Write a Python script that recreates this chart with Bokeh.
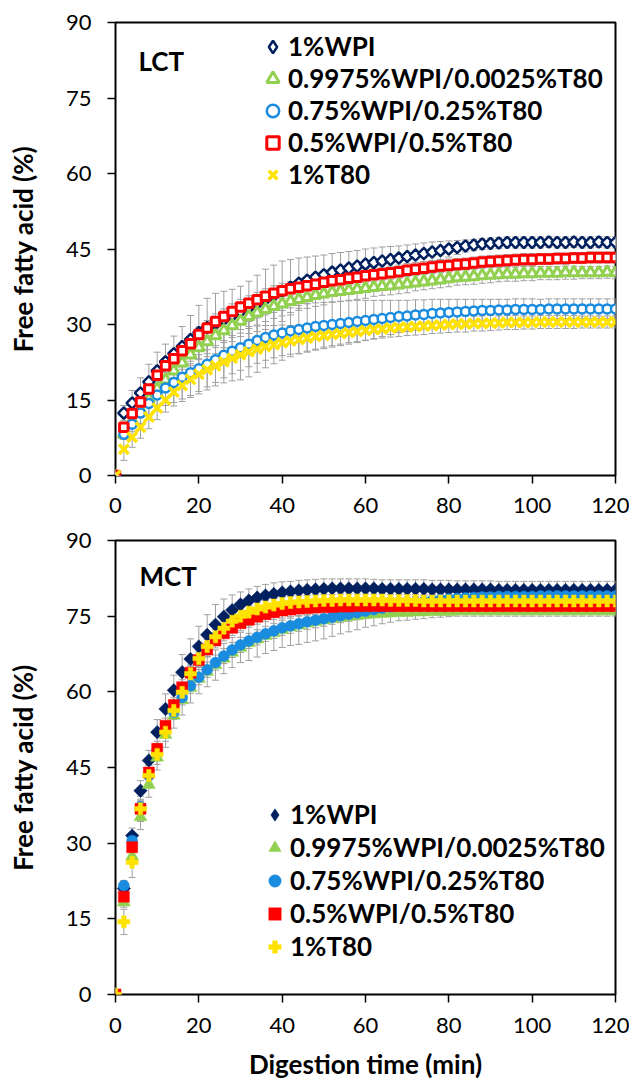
import math
from bokeh.plotting import figure
from bokeh.models import (ColumnDataSource, Whisker, TeeHead, Legend, LegendItem,
                          Label, FixedTicker, Range1d)
from bokeh.layouts import column
from bokeh.embed import file_html
from bokeh.resources import INLINE

# ---------------- data ----------------
time_min = [0, 2, 4, 6, 8, 10, 12, 14, 16, 18, 20, 22, 24, 26, 28, 30, 32, 34, 36, 38, 40,
            42, 44, 46, 48, 50, 52, 54, 56, 58, 60, 62, 64, 66, 68, 70, 72, 74, 76, 78, 80,
            82, 84, 86, 88, 90, 92, 94, 96, 98, 100, 102, 104, 106, 108, 110, 112, 114, 116, 118, 120]

series_labels = ["1%WPI", "0.9975%WPI/0.0025%T80", "0.75%WPI/0.25%T80", "0.5%WPI/0.5%T80", "1%T80"]
x_ticks = [0, 20, 40, 60, 80, 100, 120]
y_ticks = [0, 15, 30, 45, 60, 75, 90]

# LCT
lct_wpi = [0, 12.4, 14.4, 16.4, 18.6, 20.8, 22.6, 24.2, 25.6, 27.0, 28.4,
           29.4, 30.2, 31.0, 31.8, 32.6, 33.4, 34.2, 35.0, 35.8, 36.6,
           37.4, 38.2, 38.8, 39.4, 39.9, 40.4, 40.8, 41.2, 41.6, 42.0,
           42.3, 42.6, 42.9, 43.2, 43.5, 43.8, 44.1, 44.4, 44.7, 45.0,
           45.3, 45.6, 45.8, 46.0, 46.1, 46.2, 46.3, 46.3, 46.3, 46.3,
           46.3, 46.4, 46.3, 46.3, 46.4, 46.3, 46.3, 46.4, 46.3, 46.3]
lct_wpi_sd = [0, 1.5, 2.5, 3.0, 3.5, 3.7, 3.5, 3.5, 4.0, 4.8, 5.4,
              5.8, 6.0, 5.6, 5.2, 5.0, 5.2, 5.6, 6.0, 6.0, 6.0,
              5.5, 5.0, 4.6, 4.2, 3.9, 3.7, 3.5, 3.3, 3.1, 3.0,
              2.9, 2.8, 2.6, 2.4, 2.3, 2.2, 2.1, 2.0, 1.8, 1.6,
              1.4, 1.2, 1.1, 1.1, 1.1, 1.1, 1.1, 1.1, 1.1, 1.1,
              1.1, 1.1, 1.1, 1.1, 1.1, 1.1, 1.1, 1.1, 1.1, 1.1]
lct_9975 = [0, 8.2, 10.8, 13.0, 15.2, 17.2, 19.0, 20.8, 22.4, 24.0, 25.4,
            26.6, 27.8, 28.8, 29.8, 30.7, 31.6, 32.3, 33.0, 33.6, 34.1,
            34.6, 35.0, 35.4, 35.8, 36.1, 36.4, 36.6, 36.8, 37.0, 37.2,
            37.4, 37.6, 37.7, 37.9, 38.1, 38.3, 38.5, 38.7, 38.9, 39.1,
            39.3, 39.4, 39.5, 39.7, 39.8, 39.9, 40.0, 40.0, 40.1, 40.1,
            40.2, 40.2, 40.2, 40.3, 40.3, 40.3, 40.3, 40.3, 40.4, 40.3]
lct_9975_sd = [0, 1.0, 1.2, 1.4, 1.5, 1.6, 1.8, 2.0, 2.0, 2.2, 2.2,
               2.4, 2.4, 2.4, 2.4, 2.4, 2.4, 2.4, 2.4, 2.4, 2.4,
               2.2, 2.2, 2.2, 2.2, 2.2, 2.0, 2.0, 2.0, 2.0, 2.0,
               1.8, 1.8, 1.8, 1.8, 1.8, 1.6, 1.6, 1.6, 1.6, 1.6,
               1.5, 1.5, 1.5, 1.5, 1.5, 1.4, 1.4, 1.4, 1.4, 1.4,
               1.3, 1.3, 1.3, 1.3, 1.3, 1.2, 1.2, 1.2, 1.2, 1.2]
lct_75 = [0, 8.2, 10.2, 12.4, 14.3, 16.0, 17.4, 18.5, 19.5, 20.4, 21.2,
          22.1, 23.0, 23.9, 24.7, 25.4, 26.1, 26.8, 27.4, 27.9, 28.3,
          28.7, 29.0, 29.3, 29.6, 29.8, 30.0, 30.2, 30.4, 30.6, 30.8,
          31.0, 31.2, 31.4, 31.6, 31.7, 31.9, 32.0, 32.2, 32.3, 32.4,
          32.5, 32.6, 32.7, 32.8, 32.8, 32.9, 32.9, 33.0, 33.0, 33.0,
          33.0, 33.1, 33.1, 33.1, 33.1, 33.1, 33.1, 33.1, 33.1, 33.1]
lct_75_sd = [0, 1.0, 1.5, 2.0, 2.5, 3.0, 3.5, 4.0, 4.3, 4.5, 4.5,
             4.5, 4.5, 4.5, 4.5, 4.5, 4.5, 4.5, 4.5, 4.5, 4.5,
             4.6, 4.8, 4.8, 4.7, 4.6, 4.5, 4.4, 4.3, 4.2, 4.0,
             3.8, 3.6, 3.4, 3.2, 3.1, 3.0, 2.9, 2.8, 2.7, 2.6,
             2.5, 2.4, 2.3, 2.2, 2.2, 2.1, 2.1, 2.1, 2.1, 2.1,
             2.0, 2.0, 2.0, 2.0, 2.0, 2.0, 2.0, 2.0, 2.0, 2.0]
lct_5 = [0, 9.6, 12.3, 14.6, 17.2, 19.9, 21.8, 23.2, 24.8, 26.2, 28.0,
         29.3, 30.6, 31.6, 32.6, 33.5, 34.2, 34.9, 35.6, 36.2, 36.7,
         37.1, 37.4, 37.7, 38.0, 38.4, 38.7, 38.9, 39.2, 39.4, 39.7,
         39.9, 40.1, 40.3, 40.5, 40.8, 41.0, 41.2, 41.4, 41.6, 41.7,
         41.9, 42.0, 42.2, 42.4, 42.5, 42.6, 42.7, 42.8, 42.9, 42.9,
         43.0, 43.0, 43.1, 43.1, 43.2, 43.2, 43.3, 43.3, 43.3, 43.3]
lct_5_sd = [0, 0.8, 1.0, 1.0, 1.2, 1.2, 1.3, 1.3, 1.4, 1.4, 1.5,
            1.5, 1.5, 1.5, 1.5, 1.5, 1.5, 1.5, 1.5, 1.5, 1.5,
            1.4, 1.4, 1.4, 1.4, 1.4, 1.4, 1.4, 1.4, 1.4, 1.4,
            1.3, 1.3, 1.3, 1.3, 1.3, 1.3, 1.3, 1.3, 1.3, 1.3,
            1.2, 1.2, 1.2, 1.2, 1.2, 1.2, 1.2, 1.2, 1.2, 1.2,
            1.1, 1.1, 1.1, 1.1, 1.1, 1.1, 1.1, 1.1, 1.1, 1.1]
lct_t80 = [0, 5.2, 7.6, 9.6, 11.6, 13.4, 15.0, 16.6, 17.9, 19.1, 20.1,
           21.0, 21.8, 22.6, 23.3, 24.0, 24.6, 25.1, 25.6, 26.0, 26.4,
           26.7, 27.0, 27.3, 27.6, 27.8, 28.0, 28.2, 28.4, 28.6, 28.8,
           29.0, 29.1, 29.3, 29.4, 29.5, 29.6, 29.7, 29.8, 29.9, 30.0,
           30.1, 30.1, 30.2, 30.2, 30.3, 30.3, 30.4, 30.4, 30.4, 30.4,
           30.5, 30.5, 30.5, 30.5, 30.5, 30.5, 30.5, 30.5, 30.5, 30.5]
lct_t80_sd = [0, 2.2, 2.0, 2.2, 2.3, 2.3, 2.4, 2.8, 3.2, 3.6, 3.9,
              4.0, 4.0, 4.2, 4.5, 5.0, 5.0, 4.6, 4.2, 3.8, 3.5,
              3.1, 2.8, 2.6, 2.5, 2.3, 2.2, 2.1, 2.0, 2.0, 1.9,
              1.9, 1.8, 1.8, 1.8, 1.7, 1.7, 1.7, 1.6, 1.6, 1.6,
              1.6, 1.6, 1.5, 1.5, 1.5, 1.4, 1.4, 1.4, 1.3, 1.3,
              1.3, 1.3, 1.3, 1.3, 1.3, 1.2, 1.2, 1.2, 1.2, 1.2]

# MCT
mct_wpi = [0, 21.0, 31.5, 40.4, 46.4, 52.0, 56.6, 60.3, 63.9, 66.5, 69.0,
           71.3, 73.3, 74.9, 76.2, 77.3, 78.1, 78.7, 79.1, 79.4, 79.7,
           79.9, 80.1, 80.2, 80.3, 80.4, 80.5, 80.5, 80.5, 80.5, 80.5,
           80.5, 80.4, 80.4, 80.4, 80.4, 80.4, 80.4, 80.3, 80.3, 80.3,
           80.3, 80.3, 80.3, 80.3, 80.3, 80.2, 80.2, 80.2, 80.2, 80.2,
           80.2, 80.2, 80.2, 80.2, 80.2, 80.2, 80.2, 80.2, 80.2, 80.2]
mct_wpi_sd = [0, 1.0, 1.5, 2.0, 2.0, 2.5, 3.0, 3.0, 3.5, 4.0, 4.0,
              4.0, 4.0, 3.5, 3.0, 2.5, 2.3, 2.2, 2.2, 2.2, 2.1,
              2.0, 2.0, 2.0, 2.0, 2.0, 1.9, 1.9, 1.9, 1.9, 1.9,
              1.8, 1.8, 1.8, 1.8, 1.8, 1.8, 1.8, 1.8, 1.8, 1.8,
              1.7, 1.7, 1.7, 1.7, 1.7, 1.7, 1.7, 1.7, 1.7, 1.7,
              1.7, 1.7, 1.7, 1.7, 1.7, 1.7, 1.7, 1.7, 1.7, 1.7]
mct_9975 = [0, 18.3, 27.4, 35.2, 41.6, 47.0, 51.5, 55.3, 58.4, 60.8, 62.6,
            64.0, 65.3, 66.6, 67.8, 68.8, 69.7, 70.4, 71.1, 71.7, 72.3,
            72.8, 73.2, 73.6, 73.9, 74.2, 74.5, 74.7, 74.9, 75.1, 75.3,
            75.4, 75.5, 75.6, 75.7, 75.7, 75.8, 75.8, 75.9, 75.9, 75.9,
            76.0, 76.0, 76.0, 76.0, 76.0, 76.0, 76.0, 76.0, 76.0, 76.0,
            76.0, 76.0, 76.0, 76.0, 76.0, 76.0, 76.0, 76.0, 76.0, 76.0]
mct_9975_sd = [0, 1.0, 1.5, 2.5, 2.5, 2.5, 2.5, 2.5, 3.0, 3.0, 3.0,
               3.0, 3.0, 3.0, 3.0, 3.0, 3.5, 3.5, 3.5, 3.5, 3.5,
               3.6, 3.8, 3.8, 3.8, 3.7, 3.5, 3.2, 3.0, 2.8, 2.5,
               2.3, 2.0, 1.8, 1.6, 1.5, 1.4, 1.3, 1.2, 1.1, 1.0,
               1.0, 1.0, 1.0, 1.0, 1.0, 1.0, 1.0, 1.0, 1.0, 1.0,
               1.0, 1.0, 1.0, 1.0, 1.0, 1.0, 1.0, 1.0, 1.0, 1.0]
mct_75 = [0, 21.6, 30.5, 37.2, 43.4, 48.2, 52.5, 56.0, 58.9, 61.2, 62.9,
          64.4, 65.8, 67.1, 68.3, 69.3, 70.1, 70.8, 71.5, 72.1, 72.7,
          73.1, 73.5, 73.9, 74.2, 74.5, 74.8, 75.1, 75.4, 75.7, 76.0,
          76.3, 76.6, 76.9, 77.2, 77.5, 77.7, 77.9, 78.1, 78.3, 78.4,
          78.5, 78.6, 78.7, 78.8, 78.8, 78.9, 78.9, 78.9, 78.9, 78.9,
          79.0, 79.0, 79.0, 79.0, 79.0, 79.0, 79.0, 79.0, 79.0, 79.0]
mct_75_sd = [0, 1.0, 1.2, 1.5, 1.5, 1.5, 1.5, 1.5, 1.5, 1.5, 1.5,
             1.5, 1.5, 1.5, 1.5, 1.5, 1.5, 1.5, 1.5, 1.5, 1.5,
             1.5, 1.5, 1.5, 1.5, 1.5, 1.4, 1.4, 1.4, 1.4, 1.4,
             1.3, 1.3, 1.3, 1.3, 1.3, 1.2, 1.2, 1.2, 1.2, 1.2,
             1.2, 1.2, 1.2, 1.2, 1.2, 1.1, 1.1, 1.1, 1.1, 1.1,
             1.1, 1.1, 1.1, 1.1, 1.1, 1.1, 1.1, 1.1, 1.1, 1.1]
mct_5 = [0, 19.4, 29.2, 36.8, 44.0, 48.7, 53.3, 57.4, 60.9, 63.8, 66.3,
         68.4, 70.2, 71.6, 72.7, 73.6, 74.3, 74.9, 75.4, 75.8, 76.1,
         76.3, 76.5, 76.6, 76.7, 76.8, 76.8, 76.9, 76.9, 77.0, 77.0,
         77.0, 77.0, 77.0, 77.0, 77.0, 77.0, 77.0, 77.0, 77.0, 77.0,
         77.0, 77.0, 77.0, 77.0, 77.0, 77.0, 77.0, 77.0, 77.0, 77.0,
         77.0, 77.0, 77.0, 77.0, 77.0, 77.0, 77.0, 77.0, 77.0, 77.0]
mct_5_sd = [0, 1.2, 1.5, 1.5, 1.5, 1.5, 1.5, 1.5, 1.5, 1.5, 1.5,
            1.5, 1.5, 1.5, 1.5, 1.5, 1.5, 1.5, 1.5, 1.5, 1.5,
            1.4, 1.4, 1.4, 1.4, 1.4, 1.4, 1.4, 1.4, 1.4, 1.4,
            1.3, 1.3, 1.3, 1.3, 1.3, 1.3, 1.3, 1.3, 1.3, 1.3,
            1.2, 1.2, 1.2, 1.2, 1.2, 1.2, 1.2, 1.2, 1.2, 1.2,
            1.2, 1.2, 1.2, 1.2, 1.2, 1.2, 1.2, 1.2, 1.2, 1.2]
mct_t80 = [0, 14.4, 26.2, 36.8, 43.4, 47.6, 52.0, 56.3, 59.9, 63.6, 66.6,
           69.0, 70.9, 72.6, 74.0, 75.0, 75.8, 76.4, 76.8, 77.2, 77.5,
           77.7, 77.8, 77.9, 78.0, 78.1, 78.1, 78.2, 78.2, 78.2, 78.2,
           78.2, 78.2, 78.1, 78.1, 78.1, 78.1, 78.0, 78.0, 78.0, 78.0,
           78.0, 78.0, 78.0, 78.0, 78.0, 78.0, 78.0, 78.0, 78.0, 78.0,
           78.0, 78.0, 78.0, 78.0, 78.0, 78.0, 78.0, 78.0, 78.0, 78.0]
mct_t80_sd = [0, 2.5, 3.0, 2.5, 2.0, 2.0, 1.8, 1.6, 1.5, 1.5, 1.5,
              1.4, 1.4, 1.4, 1.4, 1.4, 1.3, 1.3, 1.3, 1.3, 1.3,
              1.2, 1.2, 1.2, 1.2, 1.2, 1.2, 1.2, 1.2, 1.2, 1.2,
              1.2, 1.2, 1.2, 1.2, 1.2, 1.2, 1.2, 1.2, 1.2, 1.2,
              1.2, 1.2, 1.2, 1.2, 1.2, 1.2, 1.2, 1.2, 1.2, 1.2,
              1.2, 1.2, 1.2, 1.2, 1.2, 1.2, 1.2, 1.2, 1.2, 1.2]

# ---------------- styling ----------------
FONT = "Lato"
NAVY = "#002060"
GREEN = "#92D050"
BLUE = "#1A8CE0"
RED = "#FF0000"
YELLOW = "#FFE200"
ERR = "#A0A0A0"


def make_fig(height, b_top, b_bottom, x_standoff):
    p = figure(width=629, height=height, x_range=Range1d(0, 120), y_range=Range1d(0, 90),
               output_backend="svg", toolbar_location=None,
               min_border_left=115, min_border_right=14,
               min_border_top=b_top, min_border_bottom=b_bottom)
    p.xgrid.visible = False
    p.ygrid.visible = False
    p.outline_line_color = "black"
    p.outline_line_width = 2
    p.outline_line_alpha = 1
    p.background_fill_color = "white"
    p.border_fill_color = "white"
    for ax in (p.xaxis[0], p.yaxis[0]):
        ax.axis_line_color = None
        ax.major_tick_line_color = "black"
        ax.major_tick_line_width = 1.5
        ax.major_tick_out = 8
        ax.major_tick_in = 0
        ax.minor_tick_line_color = None
        ax.major_label_text_font = FONT
        ax.major_label_text_font_size = "22px"
        ax.major_label_text_color = "black"
        ax.axis_label_text_font = FONT
        ax.axis_label_text_font_style = "bold"
        ax.axis_label_text_font_size = "26px"
        ax.axis_label_text_color = "black"
    p.xaxis.ticker = FixedTicker(ticks=x_ticks)
    p.yaxis.ticker = FixedTicker(ticks=y_ticks)
    p.yaxis.major_label_standoff = 16
    p.xaxis.major_label_standoff = x_standoff
    p.yaxis.axis_label = "Free fatty acid (%)"
    p.yaxis.axis_label_standoff = 24
    return p


def add_series(p, values_list, sd_list, marker_specs, legend_diamond_spec):
    sources = []
    for vals, sds in zip(values_list, sd_list):
        src = ColumnDataSource(dict(t=time_min, y=vals,
                                    lo=[v - s for v, s in zip(vals, sds)],
                                    hi=[v + s for v, s in zip(vals, sds)]))
        sources.append(src)
        w = Whisker(source=src, base="t", upper="hi", lower="lo", dimension="height",
                    line_color=ERR, line_width=1, level="underlay",
                    upper_head=TeeHead(size=7, line_color=ERR, line_width=1),
                    lower_head=TeeHead(size=7, line_color=ERR, line_width=1))
        p.add_layout(w)
    # zero-size diamond renderer: invisible in the plot, gives the legend its diamond glyph
    diamond = p.scatter(x="t", y="y", source=sources[0], marker="diamond", size=0,
                        **legend_diamond_spec)
    rends = []
    for src, spec in zip(sources, marker_specs):
        r = p.scatter(x="t", y="y", source=src, **spec)
        rends.append(r)
    return [diamond] + rends[1:]


def add_legend(p, rends, loc, spacing):
    items = [LegendItem(label=lab, renderers=[r]) for lab, r in zip(series_labels, rends)]
    leg = Legend(items=items, location=loc, orientation="vertical",
                 glyph_width=31, glyph_height=31, label_standoff=0, spacing=spacing,
                 padding=0, margin=0, label_height=31,
                 label_text_font=FONT, label_text_font_style="bold",
                 label_text_font_size="26px", label_text_color="black",
                 background_fill_alpha=0, border_line_alpha=0)
    p.add_layout(leg)


# ---------------- LCT (top) ----------------
p1 = make_fig(524, 22, 49, 14)
lct_specs = [
    dict(marker="square", angle=math.pi / 4, size=8, fill_color="white", line_color=NAVY, line_width=2.5),
    dict(marker="triangle", size=11, fill_color="white", line_color=GREEN, line_width=3),
    dict(marker="circle", size=9, fill_color="white", line_color=BLUE, line_width=2.5),
    dict(marker="square", size=8.5, fill_color="white", line_color=RED, line_width=3),
    dict(marker="x", size=13.5, line_color=YELLOW, line_width=3.5),
]
leg1 = add_series(p1, [lct_wpi, lct_9975, lct_75, lct_5, lct_t80],
                  [lct_wpi_sd, lct_9975_sd, lct_75_sd, lct_5_sd, lct_t80_sd], lct_specs,
                  dict(fill_color="white", line_color=NAVY, line_width=2.5))
add_legend(p1, leg1, (142, 285), 0)
p1.add_layout(Label(x=23, y=415, x_units="screen", y_units="screen", text="LCT",
                    text_font=FONT, text_font_style="bold", text_font_size="26px",
                    text_color="black", text_baseline="alphabetic"))

# ---------------- MCT (bottom) ----------------
p2 = make_fig(558, 16, 88, 15)
mct_specs = [
    dict(marker="square", angle=math.pi / 4, size=9.5, fill_color=NAVY, line_color=NAVY, line_width=0.5),
    dict(marker="triangle", size=13, fill_color=GREEN, line_color=GREEN, line_width=0.5),
    dict(marker="circle", size=11, fill_color=BLUE, line_color=BLUE, line_width=0.5),
    dict(marker="square", size=11, fill_color=RED, line_color=RED, line_width=0.5),
    dict(marker="plus", size=12, fill_color=YELLOW, line_color=YELLOW, line_width=0.5),
]
leg2 = add_series(p2, [mct_wpi, mct_9975, mct_75, mct_5, mct_t80],
                  [mct_wpi_sd, mct_9975_sd, mct_75_sd, mct_5_sd, mct_t80_sd], mct_specs,
                  dict(fill_color=NAVY, line_color=NAVY, line_width=0.5))
add_legend(p2, leg2, (144, 32), 1)
p2.add_layout(Label(x=24, y=419, x_units="screen", y_units="screen", text="MCT",
                    text_font=FONT, text_font_style="bold", text_font_size="26px",
                    text_color="black", text_baseline="alphabetic"))
p2.xaxis.axis_label = "Digestion time (min)"
p2.xaxis.axis_label_standoff = 12

layout = column(p1, p2, spacing=0)
open("out.html", "w").write(file_html(layout, INLINE))
